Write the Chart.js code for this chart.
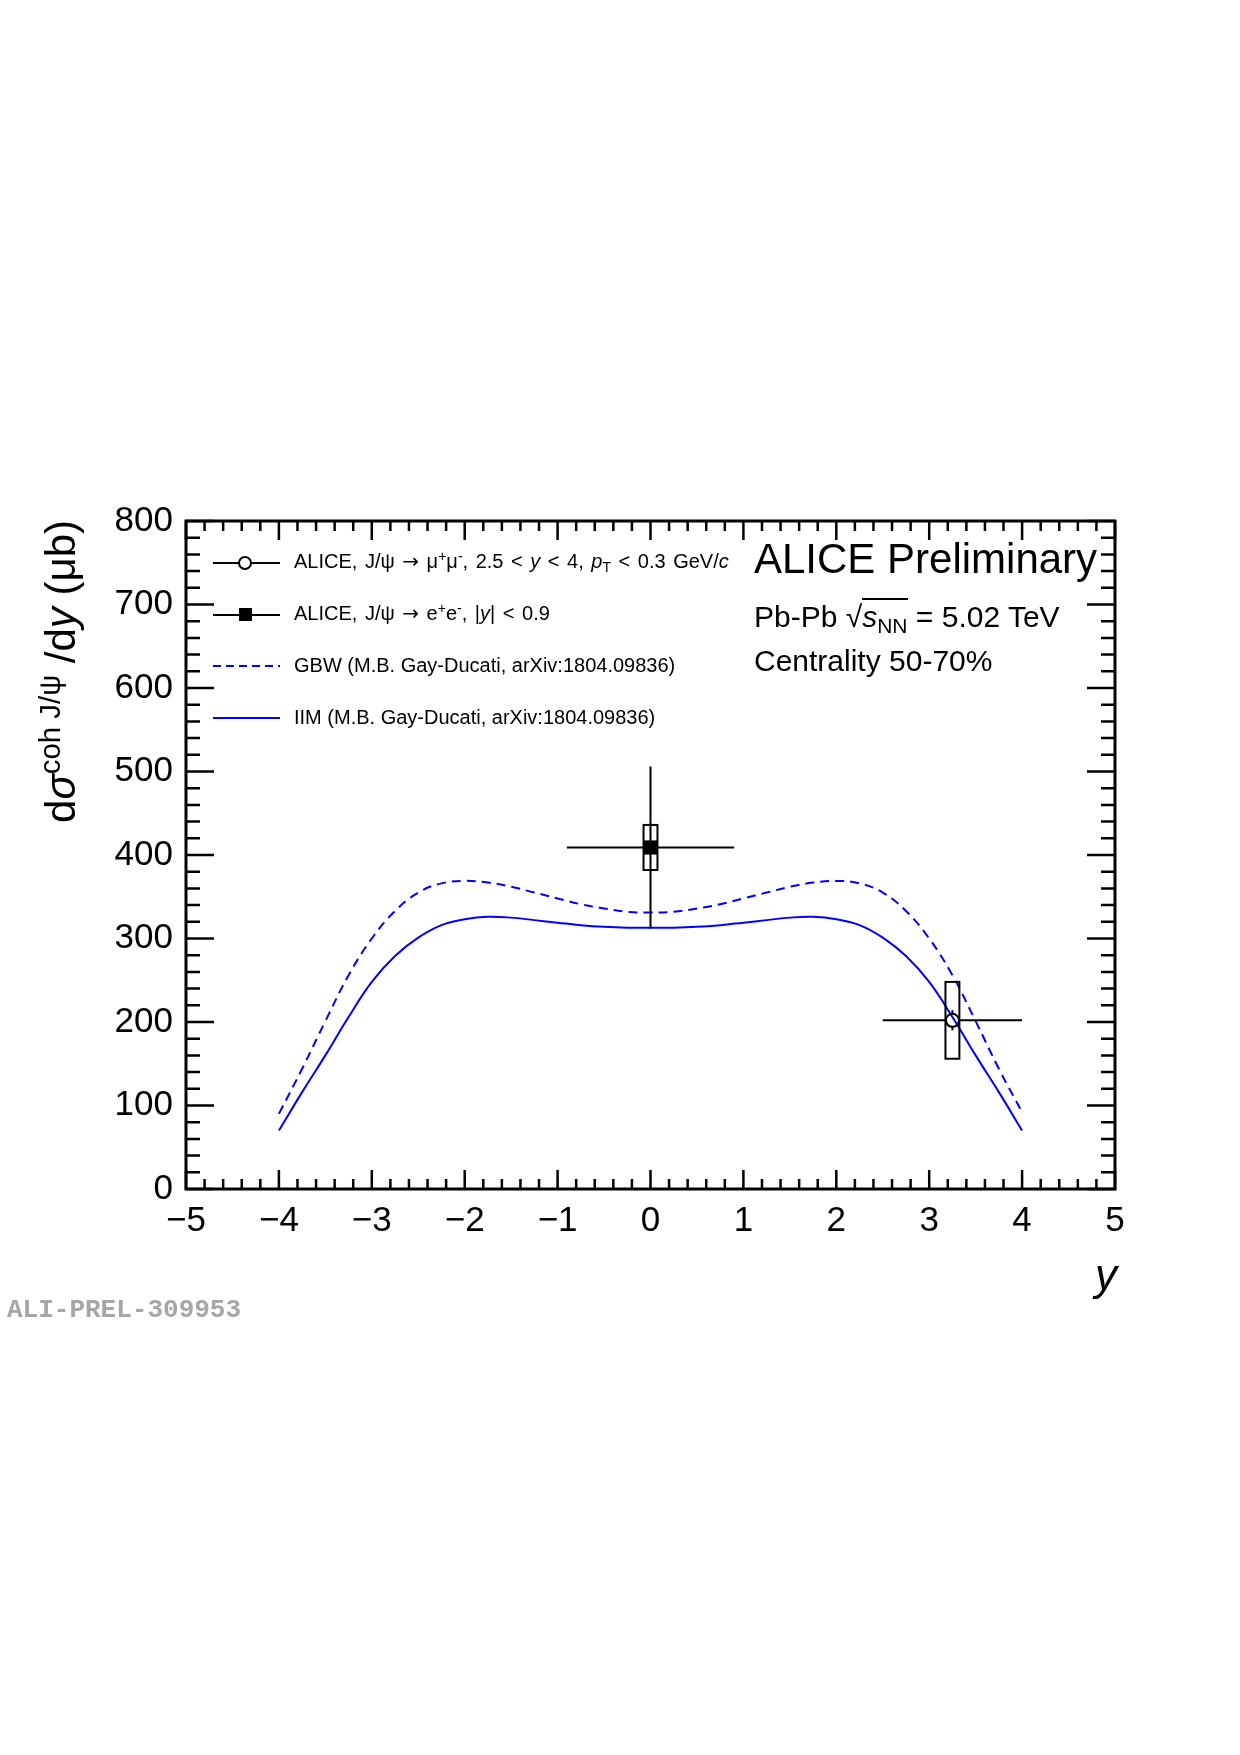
<!DOCTYPE html>
<html>
<head>
<meta charset="utf-8">
<script src="https://cdn.jsdelivr.net/npm/chart.js@4.4.1/dist/chart.umd.min.js"></script>
<style>
  body { margin: 0; background: #fff; }
  #wrap { position: relative; width: 1240px; height: 1755px; font-family: "Liberation Sans", Arial, sans-serif; color: #000; }
  #wrap canvas { position: absolute; left: 0; top: 0; }
  .txt { position: absolute; white-space: nowrap; }
  .txt sup, .txt sub, .legtxt sup, .legtxt sub { font-size: 0.7em; line-height: 0; }
  .txt sup, .legtxt sup { vertical-align: 0.5em; }
  .txt sub, .legtxt sub { vertical-align: -0.3em; }
  .arr { font-family: "DejaVu Sans", sans-serif; }
  .leg { position: absolute; left: 213px; width: 70px; height: 20px; }
  .legtxt { position: absolute; left: 294px; font-size: 20px; line-height: 20px; white-space: nowrap; }
</style>
</head>
<body>
<div id="wrap">
  <canvas id="jpsiChart" width="1240" height="1755"></canvas>

  <!-- leyenda -->
  <svg class="leg" style="top:553px" viewBox="0 0 70 20"><line x1="0" y1="10" x2="26" y2="10" stroke="#000" stroke-width="2"/><line x1="38" y1="10" x2="67" y2="10" stroke="#000" stroke-width="2"/><circle cx="32" cy="10" r="6" fill="none" stroke="#000" stroke-width="2"/></svg>
  <div class="legtxt" style="top:551px; word-spacing:2px;">ALICE, J/ψ <span class="arr">→</span> μ<sup>+</sup>μ<sup>-</sup>, 2.5 &lt; <i>y</i> &lt; 4, <i>p</i><sub>T</sub> &lt; 0.3 GeV/<i>c</i></div>

  <svg class="leg" style="top:605px" viewBox="0 0 70 20"><line x1="0" y1="10" x2="67" y2="10" stroke="#000" stroke-width="2"/><rect x="26" y="3" width="13" height="13" fill="#000"/></svg>
  <div class="legtxt" style="top:603px; word-spacing:2px;">ALICE, J/ψ <span class="arr">→</span> e<sup>+</sup>e<sup>-</sup>, |<i>y</i>| &lt; 0.9</div>

  <svg class="leg" style="top:656px" viewBox="0 0 70 20"><line x1="0" y1="10" x2="67" y2="10" stroke="#0000ff" stroke-width="2" stroke-dasharray="8,5"/></svg>
  <div class="legtxt" style="top:655px">GBW (M.B. Gay-Ducati, arXiv:1804.09836)</div>

  <svg class="leg" style="top:708px" viewBox="0 0 70 20"><line x1="0" y1="10" x2="67" y2="10" stroke="#0000ff" stroke-width="2"/></svg>
  <div class="legtxt" style="top:707px">IIM (M.B. Gay-Ducati, arXiv:1804.09836)</div>

  <!-- texto de la colaboración -->
  <div class="txt" style="left:754px; top:538px; font-size:42px; line-height:42px;">ALICE Preliminary</div>
  <div class="txt" style="left:754px; top:602px; font-size:30px; line-height:30px;">Pb-Pb √<span style="border-top:2px solid #000;"><i>s</i><sub>NN</sub></span> = 5.02 TeV</div>
  <div class="txt" style="left:754px; top:646px; font-size:30px; line-height:30px;">Centrality 50-70%</div>

  <!-- títulos de ejes -->
  <div class="txt" style="left:40px; top:920px; width:400px; text-align:right; font-size:42px; line-height:42px; transform-origin:0 0; transform:rotate(-90deg);">d<i>σ</i><sup>coh J/ψ</sup> /d<i>y</i> (μb)</div>
  <div class="txt" style="right:123px; top:1253px; font-size:44px; line-height:44px;"><i>y</i></div>

  <div class="txt" style="left:7px; top:1297px; font-family:'Liberation Mono', monospace; font-weight:bold; font-size:26px; line-height:26px; color:#a6a6a6;">ALI-PREL-309953</div>
</div>

<script>
// Puntos de las curvas teóricas (rapidez y)
const rapidity = [-4, -3.75, -3.5, -3.25, -3, -2.75, -2.5, -2.25, -2, -1.75, -1.5, -1.25, -1, -0.75, -0.5, -0.25,
                  0, 0.25, 0.5, 0.75, 1, 1.25, 1.5, 1.75, 2, 2.25, 2.5, 2.75, 3, 3.25, 3.5, 3.75, 4];
const gbw = [90, 144, 201, 256, 300, 333, 355, 366, 369, 367, 362, 355, 348, 341, 336, 332,
             331, 332, 336, 341, 348, 355, 362, 367, 369, 366, 355, 333, 300, 256, 201, 144, 92];
const iim = [70, 116, 160, 206, 248, 279, 301, 316, 323, 326, 325, 322, 319, 316, 314, 313,
             313, 313, 314, 316, 319, 322, 325, 326, 323, 316, 301, 279, 248, 206, 160, 116, 70];

// Datos ALICE: mu+mu- (forward) y e+e- (central)
const fwdY = [3.25], fwdVal = [202], fwdXerr = [0.75], fwdStat = [12], fwdSyst = [46];
const midY = [0], midVal = [409], midXerr = [0.9], midStat = [97], midSyst = [27];

// Ticks
const xTicks = [-5, -4, -3, -2, -1, 0, 1, 2, 3, 4, 5];
const yTicks = [0, 100, 200, 300, 400, 500, 600, 700, 800];

const boxHalf = 0.075;

const toXY = (xs, ys) => xs.map((v, i) => ({ x: v, y: ys[i] }));

// Barras de error y cajas sistemáticas
const errorBars = {
    id: 'errorBars',
    afterDatasetsDraw(chart) {
        const { ctx, scales: { x, y } } = chart;
        ctx.save();
        ctx.strokeStyle = '#000';
        ctx.lineWidth = 2;
        const draw = (ys, vals, xerr, stat, syst, gap) => {
            ys.forEach((yy, i) => {
                const cx = x.getPixelForValue(yy), cy = y.getPixelForValue(vals[i]);
                const x0 = x.getPixelForValue(yy - boxHalf), x1 = x.getPixelForValue(yy + boxHalf);
                const sTop = y.getPixelForValue(vals[i] + syst[i]), sBot = y.getPixelForValue(vals[i] - syst[i]);
                ctx.strokeRect(x0, sTop, x1 - x0, sBot - sTop);
                const l = x.getPixelForValue(yy - xerr[i]), r = x.getPixelForValue(yy + xerr[i]);
                const t = y.getPixelForValue(vals[i] + stat[i]), b = y.getPixelForValue(vals[i] - stat[i]);
                ctx.beginPath();
                ctx.moveTo(l, cy); ctx.lineTo(cx - gap, cy);
                ctx.moveTo(cx + gap, cy); ctx.lineTo(r, cy);
                if (cy - t > gap) { ctx.moveTo(cx, t); ctx.lineTo(cx, cy - gap); }
                if (b - cy > gap) { ctx.moveTo(cx, cy + gap); ctx.lineTo(cx, b); }
                ctx.stroke();
            });
        };
        draw(fwdY, fwdVal, fwdXerr, fwdStat, fwdSyst, 7);
        draw(midY, midVal, midXerr, midStat, midSyst, 0);
        ctx.restore();
    }
};

// Marco y ticks hacia dentro (estilo ROOT)
const frameTicks = {
    id: 'frameTicks',
    afterDraw(chart) {
        const { ctx, chartArea: a, scales: { x, y } } = chart;
        ctx.save();
        ctx.strokeStyle = '#000';
        ctx.lineWidth = 2.5;
        ctx.beginPath();
        for (let i = 0; i <= 50; i++) {
            const px = x.getPixelForValue(-5 + i * 0.2);
            const len = i % 5 === 0 ? 19 : 10;
            ctx.moveTo(px, a.bottom); ctx.lineTo(px, a.bottom - len);
            ctx.moveTo(px, a.top); ctx.lineTo(px, a.top + len);
        }
        for (let i = 0; i <= 40; i++) {
            const py = y.getPixelForValue(i * 20);
            const len = i % 5 === 0 ? 28 : 14;
            ctx.moveTo(a.left, py); ctx.lineTo(a.left + len, py);
            ctx.moveTo(a.right, py); ctx.lineTo(a.right - len, py);
        }
        ctx.stroke();
        ctx.lineWidth = 3;
        ctx.strokeRect(a.left, a.top, a.right - a.left, a.bottom - a.top);
        ctx.restore();
    }
};

const ctx = document.getElementById('jpsiChart').getContext('2d');
const jpsiChart = new Chart(ctx, {
    type: 'scatter',
    data: {
        datasets: [
            {
                label: 'ALICE mu+mu-',
                data: toXY(fwdY, fwdVal),
                pointStyle: 'circle',
                pointRadius: 6.5,
                borderColor: '#000',
                backgroundColor: 'rgba(0,0,0,0)',
                borderWidth: 2,
            },
            {
                label: 'ALICE e+e-',
                data: toXY(midY, midVal),
                pointStyle: 'rect',
                pointRadius: 10,
                borderColor: '#000',
                backgroundColor: '#000',
                borderWidth: 0,
            },
            {
                label: 'GBW',
                data: toXY(rapidity, gbw),
                showLine: true,
                pointRadius: 0,
                borderColor: '#0000ff',
                borderWidth: 2,
                borderDash: [9, 6],
                tension: 0.4,
            },
            {
                label: 'IIM',
                data: toXY(rapidity, iim),
                showLine: true,
                pointRadius: 0,
                borderColor: '#0000ff',
                borderWidth: 2,
                tension: 0.4,
            },
        ],
    },
    options: {
        responsive: false,
        animation: false,
        devicePixelRatio: 1,
        layout: { padding: { left: 86, right: 125, top: 521, bottom: 486 } },
        plugins: {
            legend: { display: false },
            tooltip: { enabled: false },
        },
        scales: {
            x: {
                type: 'linear', min: -5, max: 5,
                afterFit: (s) => { s.height = 80; },
                afterBuildTicks: (s) => { s.ticks = xTicks.map(v => ({ value: v })); },
                grid: { display: false, drawTicks: false },
                border: { display: false },
                ticks: {
                    padding: 11,
                    color: '#000',
                    font: { family: 'Liberation Sans', size: 35 },
                    callback: (v) => (v < 0 ? '\u2212' + Math.abs(v) : String(v)),
                },
            },
            y: {
                type: 'linear', min: 0, max: 800,
                afterFit: (s) => { s.width = 100; },
                afterBuildTicks: (s) => { s.ticks = yTicks.map(v => ({ value: v })); },
                grid: { display: false, drawTicks: false },
                border: { display: false },
                ticks: {
                    padding: 13,
                    color: '#000',
                    font: { family: 'Liberation Sans', size: 35 },
                },
            },
        },
    },
    plugins: [errorBars, frameTicks],
});
</script>
</body>
</html>
